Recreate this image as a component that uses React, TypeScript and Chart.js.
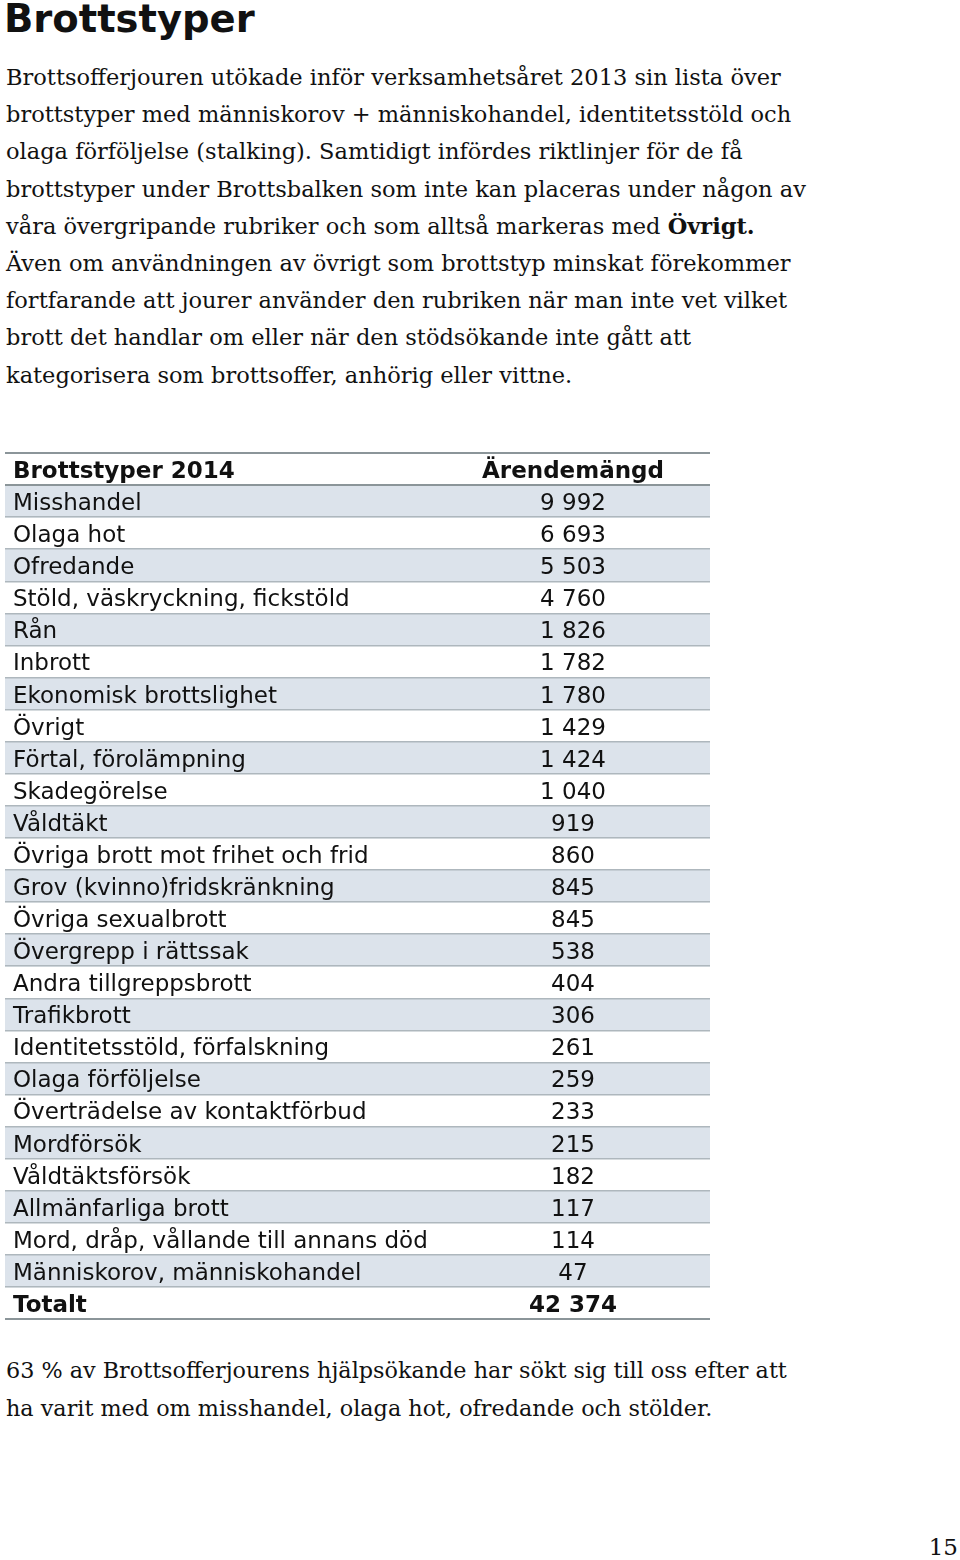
import React, { useEffect, useRef } from "react";
import { Chart, registerables } from "chart.js";

Chart.register(...registerables);

const pageTitle = "Brottstyper";
const introLines = [
  "Brottsofferjouren utökade inför verksamhetsåret 2013 sin lista över",
  "brottstyper med människorov + människohandel, identitetsstöld och",
  "olaga förföljelse (stalking). Samtidigt infördes riktlinjer för de få",
  "brottstyper under Brottsbalken som inte kan placeras under någon av",
  "våra övergripande rubriker och som alltså markeras med ",
  "Även om användningen av övrigt som brottstyp minskat förekommer",
  "fortfarande att jourer använder den rubriken när man inte vet vilket",
  "brott det handlar om eller när den stödsökande inte gått att",
  "kategorisera som brottsoffer, anhörig eller vittne.",
];
const introBold = "Övrigt.";
const outroLines = [
  "63 % av Brottsofferjourens hjälpsökande har sökt sig till oss efter att",
  "ha varit med om misshandel, olaga hot, ofredande och stölder.",
];
const pageNumber = "15";

const headerLabel = "Brottstyper 2014";
const headerValue = "Ärendemängd";
const categories = [
  "Misshandel",
  "Olaga hot",
  "Ofredande",
  "Stöld, väskryckning, fickstöld",
  "Rån",
  "Inbrott",
  "Ekonomisk brottslighet",
  "Övrigt",
  "Förtal, förolämpning",
  "Skadegörelse",
  "Våldtäkt",
  "Övriga brott mot frihet och frid",
  "Grov (kvinno)fridskränkning",
  "Övriga sexualbrott",
  "Övergrepp i rättssak",
  "Andra tillgreppsbrott",
  "Trafikbrott",
  "Identitetsstöld, förfalskning",
  "Olaga förföljelse",
  "Överträdelse av kontaktförbud",
  "Mordförsök",
  "Våldtäktsförsök",
  "Allmänfarliga brott",
  "Mord, dråp, vållande till annans död",
  "Människorov, människohandel",
];
const values = [
  9992, 6693, 5503, 4760, 1826, 1782, 1780, 1429, 1424, 1040, 919, 860, 845,
  845, 538, 404, 306, 261, 259, 233, 215, 182, 117, 114, 47,
];
const totalLabel = "Totalt";
const totalValue = 42374;

const fmt = (n: number) => String(n).replace(/\B(?=(\d{3})+(?!\d))/g, " ");

const TABLE_FONT = '"DejaVu Sans", Verdana, sans-serif';
const SERIF = '"DejaVu Serif", Georgia, serif';

function TableChart() {
  const ref = useRef<HTMLCanvasElement | null>(null);
  useEffect(() => {
    if (!ref.current) return;
    const rowLabels = [headerLabel, ...categories, totalLabel];
    const rowValues: (number | string)[] = [headerValue, ...values, totalValue];
    const stripe = rowLabels.map((_, i) =>
      i >= 1 && i <= categories.length && (i - 1) % 2 === 0 ? 1 : null
    );
    const lastIdx = rowLabels.length - 1;

    const textPlugin = {
      id: "tableText",
      afterDatasetsDraw(chart: any) {
        const { ctx, chartArea, scales } = chart;
        const y = scales.y;
        ctx.save();
        ctx.fillStyle = "#111111";
        ctx.textBaseline = "middle";
        rowLabels.forEach((lab, i) => {
          const bold = i === 0 || i === lastIdx;
          ctx.font = `${bold ? "bold " : ""}23px ${TABLE_FONT}`;
          const py = y.getPixelForValue(i) + 3;
          ctx.textAlign = "left";
          ctx.fillText(lab, chartArea.left + 8, py);
          const v = rowValues[i];
          ctx.textAlign = "center";
          ctx.fillText(typeof v === "number" ? fmt(v) : v, chartArea.left + 568, py);
        });
        ctx.restore();
      },
    };

    const chart = new Chart(ref.current, {
      type: "bar",
      data: {
        labels: rowLabels,
        datasets: [
          {
            label: "stripe",
            data: stripe as any,
            backgroundColor: "#dce3eb",
            borderWidth: 0,
            barPercentage: 1,
            categoryPercentage: 1,
          },
        ],
      },
      options: {
        indexAxis: "y",
        animation: false,
        responsive: false,
        layout: { padding: { top: 1, bottom: 1, left: 0, right: 0 } },
        plugins: {
          legend: { display: false },
          tooltip: { enabled: false },
        },
        scales: {
          x: { display: false, min: 0, max: 1 },
          y: {
            display: true,
            ticks: { display: false },
            border: { display: false },
            afterFit: (s: any) => {
              s.width = 0;
            },
            grid: {
              offset: true,
              drawTicks: false,
              z: 1,
              color: (c: any) => {
                const i = c.index;
                if (i === undefined || i === 0 || i === 1 || i >= lastIdx + 1) return "#8b9599";
                return "#aeb7bd";
              },
              lineWidth: (c: any) => {
                const i = c.index;
                if (i === undefined || i === 0 || i === 1 || i >= lastIdx + 1) return 2;
                return 1.5;
              },
            },
          },
        },
      },
      plugins: [textPlugin],
    });
    return () => chart.destroy();
  }, []);
  return (
    <canvas
      ref={ref}
      width={705}
      height={868}
      style={{ position: "absolute", left: 5, top: 452, width: 705, height: 868 }}
    />
  );
}

export default function App() {
  return (
    <div
      style={{
        position: "absolute",
        left: 0,
        top: 0,
        width: 960,
        height: 1560,
        background: "#ffffff",
        color: "#111111",
        overflow: "hidden",
      }}
    >
      <div
        style={{
          position: "absolute",
          left: 4,
          top: 0,
          fontFamily: TABLE_FONT,
          fontWeight: "bold",
          fontSize: 38.5,
          lineHeight: "38px",
          whiteSpace: "nowrap",
        }}
      >
        {pageTitle}
      </div>
      <div
        style={{
          position: "absolute",
          left: 6,
          top: 59,
          fontFamily: SERIF,
          fontSize: 22.5,
          lineHeight: "37.2px",
          whiteSpace: "nowrap",
        }}
      >
        {introLines.map((l, i) => (
          <div key={i}>
            {l}
            {i === 4 ? <b>{introBold}</b> : null}
          </div>
        ))}
      </div>
      <TableChart />
      <div
        style={{
          position: "absolute",
          left: 6,
          top: 1352,
          fontFamily: SERIF,
          fontSize: 22.3,
          lineHeight: "37.5px",
          whiteSpace: "nowrap",
        }}
      >
        {outroLines.map((l, i) => (
          <div key={i}>{l}</div>
        ))}
      </div>
      <div
        style={{
          position: "absolute",
          right: 2,
          top: 1533,
          fontFamily: SERIF,
          fontSize: 23,
          lineHeight: "28px",
        }}
      >
        {pageNumber}
      </div>
    </div>
  );
}
